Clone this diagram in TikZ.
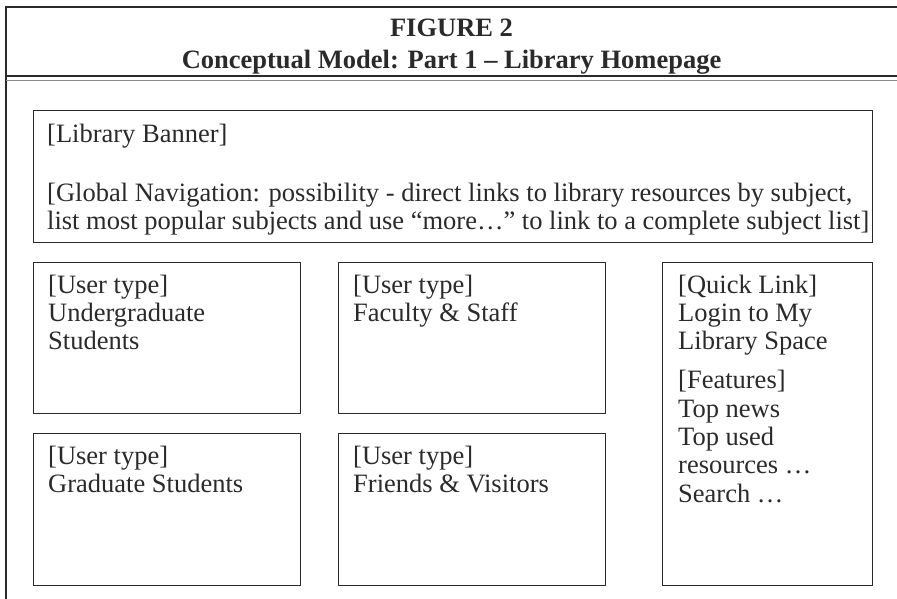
\documentclass[tikz,border=0pt]{standalone}
\usepackage{fontspec}
\setmainfont{Liberation Serif}
\definecolor{ink}{HTML}{2A2A2A}
\definecolor{lightrule}{HTML}{8A8A8A}
\begin{document}
\begin{tikzpicture}[x=1pt,y=-1pt,
  rule/.style={draw=ink,line width=1.4pt},
  boxnode/.style={draw=ink,line width=1.4pt,anchor=north west,inner sep=0pt},
  txt/.style={font=\fontsize{26.5}{28.3}\selectfont,align=left,anchor=north west,inner sep=0pt,text=ink},
  head/.style={font=\fontsize{26.5}{32}\selectfont\bfseries,anchor=base,inner sep=0pt,text=ink}]
\useasboundingbox (0,0) rectangle (897,598);
\clip (0,0) rectangle (897,598);
% outer frame
\coordinate (fbl) at (6,620);
\coordinate (ftl) at (6,7);
\coordinate (ftr) at (920,7);
\draw[rule] (fbl) -- (ftl) -- (ftr);
\coordinate (d1l) at (6,76);
\coordinate (d1r) at (920,76);
\coordinate (d2l) at (6,80.5);
\coordinate (d2r) at (920,80.5);
\draw[rule] (d1l) -- (d1r);
\draw[draw=lightrule,line width=1.4pt] (d2l) -- (d2r);
% header
\node[head] (h1) at (451.5,36) {FIGURE 2};
\node[head] (h2) at (451.5,68) {Conceptual Model: Part 1 – Library Homepage};
% boxes
\node[boxnode,minimum width=839pt,minimum height=132pt] (banner) at (33,110) {};
\node[boxnode,minimum width=267pt,minimum height=151pt] (ug) at (33,262) {};
\node[boxnode,minimum width=267pt,minimum height=151pt] (fs) at (338,262) {};
\node[boxnode,minimum width=267pt,minimum height=152pt] (gs) at (33,433) {};
\node[boxnode,minimum width=267pt,minimum height=152pt] (fv) at (338,433) {};
\node[boxnode,minimum width=210pt,minimum height=323pt] (ql) at (662,262) {};
% texts (strut height ~19.8 above first baseline)
\node[txt] (tbanner) at ([shift={(14,12)}]banner.north west)
  {\strut[Library Banner]\\[31pt]
   [Global Navigation: possibility - direct links to library resources by subject,\\
   list most popular subjects and use “more…” to link to a complete subject list]};
\node[txt] (tug) at ([shift={(15,11)}]ug.north west) {\strut[User type]\\Undergraduate\\Students};
\node[txt] (tfs) at ([shift={(15,11)}]fs.north west) {\strut[User type]\\Faculty \& Staff};
\node[txt] (tgs) at ([shift={(15,11)}]gs.north west) {\strut[User type]\\Graduate Students};
\node[txt] (tfv) at ([shift={(15,11)}]fv.north west) {\strut[User type]\\Friends \& Visitors};
\node[txt] (tql) at ([shift={(16,11)}]ql.north west)
  {\strut[Quick Link]\\Login to My\\Library Space\\[11pt]
   [Features]\\Top news\\Top used\\resources …\\Search …};
\end{tikzpicture}
\end{document}
